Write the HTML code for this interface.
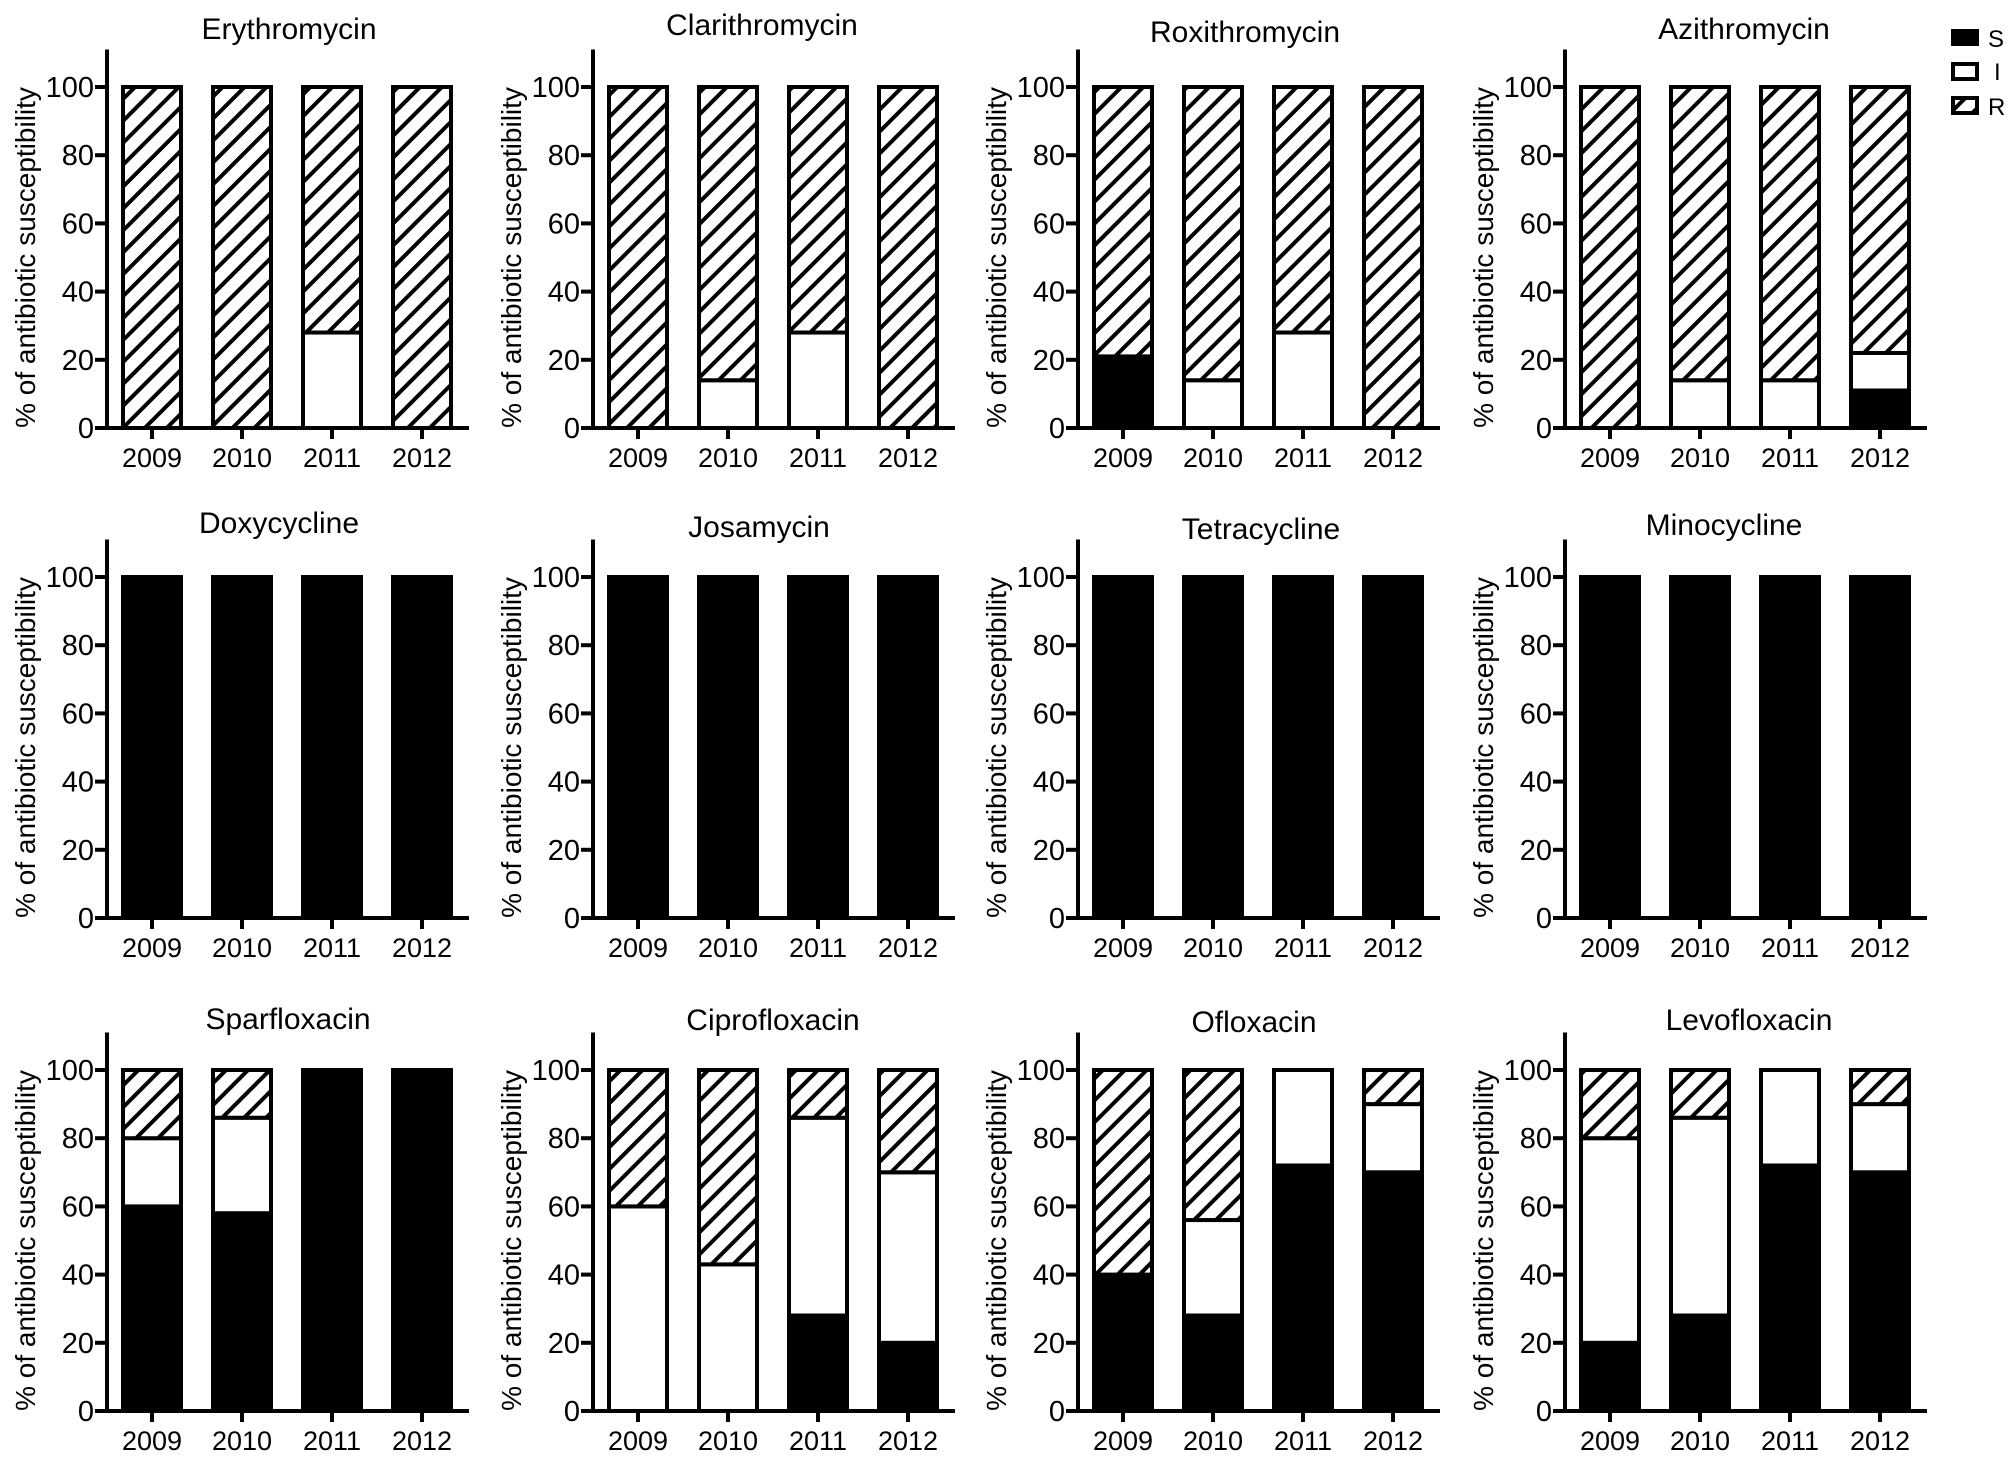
<!DOCTYPE html>
<html><head><meta charset="utf-8"><style>
html,body{margin:0;padding:0;background:#fff;}
svg{display:block;font-family:"Liberation Sans",Arial,sans-serif;}
</style></head><body>
<svg id="chart" width="2008" height="1478" viewBox="0 0 2008 1478" xmlns="http://www.w3.org/2000/svg">
<defs>
<pattern id="hatch" patternUnits="userSpaceOnUse" width="15.5" height="15.5" patternTransform="rotate(45)">
<rect width="15.5" height="15.5" fill="#fff"/>
<line x1="0" y1="0" x2="0" y2="15.5" stroke="#000" stroke-width="8"/>
</pattern>
</defs>
<g id="legend">
<rect x="1951" y="29" width="28" height="17" fill="#000"/>
<text x="1988" y="47" font-size="24">S</text>
<rect x="1953" y="64" width="24" height="15" fill="#fff" stroke="#000" stroke-width="4"/>
<text x="1994" y="80" font-size="24">I</text>
<rect x="1953" y="98" width="24" height="15" fill="url(#hatch)" stroke="#000" stroke-width="4"/>
<text x="1988" y="115" font-size="24">R</text>
</g>
</svg>
<script>
const titles = ["Erythromycin","Clarithromycin","Roxithromycin","Azithromycin","Doxycycline","Josamycin","Tetracycline","Minocycline","Sparfloxacin","Ciprofloxacin","Ofloxacin","Levofloxacin"];
const years = ["2009","2010","2011","2012"];
const yTicks = [0,20,40,60,80,100];
const sValues = [[0,0,0,0],[0,0,0,0],[21,0,0,0],[0,0,0,11],[100,100,100,100],[100,100,100,100],[100,100,100,100],[100,100,100,100],[60,58,100,100],[0,0,28,20],[40,28,72,70],[20,28,72,70]];
const iValues = [[0,0,28,0],[0,14,28,0],[0,14,28,0],[0,14,14,11],[0,0,0,0],[0,0,0,0],[0,0,0,0],[0,0,0,0],[20,28,0,0],[60,43,58,50],[0,28,28,20],[60,58,28,20]];
const rValues = [[100,100,72,100],[100,86,72,100],[79,86,72,100],[100,86,86,78],[0,0,0,0],[0,0,0,0],[0,0,0,0],[0,0,0,0],[20,14,0,0],[40,57,14,30],[60,44,0,10],[20,14,0,10]];

const NS="http://www.w3.org/2000/svg";
const svg=document.getElementById('chart');
const colX=[107,593,1078,1565];
const rowZero=[428,918,1411];
const titleLayoutX=[289,762,1245,1744,279,759,1261,1724,288,773,1254,1749];
const titleLayoutY=[39,35,42,39,533,537,539,535,1029,1030,1032,1030];
const unit=3.41, barW=58, step=90, firstOff=45;
function mk(tag,attrs,parent){const e=document.createElementNS(NS,tag);for(const k in attrs)e.setAttribute(k,attrs[k]);(parent||svg).appendChild(e);return e;}

titles.forEach((t,p)=>{
  const row=Math.floor(p/4);
  const ax=colX[p%4], y0=rowZero[row];
  const yS=v=>y0-v*unit;
  const xS=i=>ax+firstOff+i*step;
  const g=mk('g',{});
  
  
  const tt=mk('text',{x:titleLayoutX[p],y:titleLayoutY[p],'font-size':30,'text-anchor':'middle'},g);
  tt.textContent=t;
  
  
  const yl=mk('text',{x:0,y:0,'font-size':28,'text-anchor':'middle',transform:`translate(${ax-72},${yS(50)}) rotate(-90)`},g);
  yl.textContent='% of antibiotic susceptibility';
  
  
  years.forEach((yr,i)=>{
    const cx=xS(i), x=cx-barW/2;
    const s=sValues[p][i], iv=iValues[p][i], r=rValues[p][i];
    const segs=[[s,'#000','s'],[iv,'#fff','i'],[r,'url(#hatch)','r']];
    let base=0;
    segs.forEach(([v,fill,nm])=>{
      if(v>0){
        const rc=mk('rect',{x:x,y:yS(base+v),width:barW,height:v*unit,fill:fill,stroke:'#000','stroke-width':4},g);
        
        
      }
      base+=v;
    });
    mk('line',{x1:cx,y1:y0,x2:cx,y2:y0+11,stroke:'#000','stroke-width':4},g);
    const xl=mk('text',{x:cx,y:y0+39,'font-size':27,'text-anchor':'middle'},g);
    xl.textContent=yr;
    
    
  });
  const ya=mk('line',{x1:ax,y1:yS(111),x2:ax,y2:y0+2,stroke:'#000','stroke-width':4},g);
  
  
  const xa=mk('line',{x1:ax-12,y1:y0,x2:ax+362,y2:y0,stroke:'#000','stroke-width':4},g);
  
  
  yTicks.forEach(v=>{
    mk('line',{x1:ax-12,y1:yS(v),x2:ax,y2:yS(v),stroke:'#000','stroke-width':4},g);
    const tl=mk('text',{x:ax-13,y:yS(v)+10,'font-size':29,'text-anchor':'end'},g);
    tl.textContent=v;
    
    
  });
});
</script>
</body></html>
